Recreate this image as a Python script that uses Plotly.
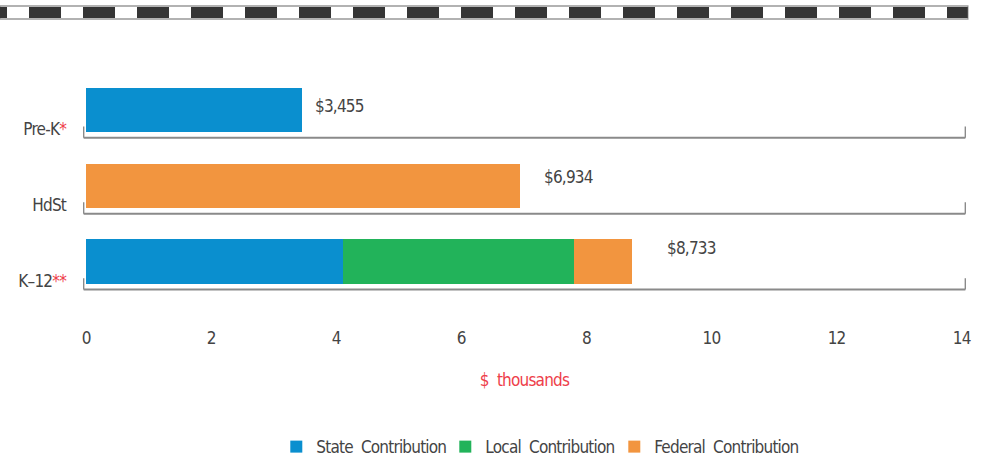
import plotly.graph_objects as go

STATE_COLOR = "#0A8FCF"
LOCAL_COLOR = "#22B35A"
FEDERAL_COLOR = "#F2953F"
RED = "#EE3E4A"
TEXT = "#444444"
FONT = "DejaVu Sans, sans-serif"

programs = ["Pre-K", "HdSt", "K\u201312"]
program_marks = ["*", "", "**"]
state = [3.455, 0, 4.10]
local = [0, 0, 3.70]
federal = [0, 6.934, 0.933]
totals = [3.455, 6.934, 8.733]
total_labels = ["$3,455", "$6,934", "$8,733"]
x_ticks = [0, 2, 4, 6, 8, 10, 12, 14]

rows = list(range(len(programs)))
tick_text = [
    f"{name}<span style='color:{RED}'>{mark}</span>" if mark else name
    for name, mark in zip(programs, program_marks)
]

fig = go.Figure()
for values, color, label in (
    (state, STATE_COLOR, "State  Contribution"),
    (local, LOCAL_COLOR, "Local  Contribution"),
    (federal, FEDERAL_COLOR, "Federal  Contribution"),
):
    fig.add_trace(
        go.Bar(
            x=values,
            y=rows,
            orientation="h",
            width=0.58,
            name=label,
            marker={"color": color, "line": {"width": 0}},
        )
    )

# value labels past the end of each bar
for row, total, text in zip(rows, totals, total_labels):
    fig.add_annotation(
        x=total, y=row, text=text, showarrow=False,
        xanchor="left", align="left", xshift=11 + 11 * row, yshift=4 + 4.5 * row,
        font={"size": 17, "color": TEXT, "family": FONT},
    )

# bracket baseline under each row
for row in rows:
    base = row + 0.37
    fig.add_shape(type="line", x0=-0.04, x1=14.06, y0=base, y1=base,
                  line={"color": "#8a8a8a", "width": 2})
    for xe in (-0.04, 14.06):
        fig.add_shape(type="line", x0=xe, x1=xe, y0=base, y1=base - 0.15,
                      line={"color": "#8a8a8a", "width": 1.5})

# dashed band at the top of the page
band = {"xref": "paper", "yref": "paper", "ysizemode": "pixel", "yanchor": 1}
fig.add_shape(type="rect", x0=-0.094, x1=1.002, y0=30, y1=43,
              line={"color": "#999999", "width": 1.5}, fillcolor="white", **band)
fig.add_shape(type="line", x0=-0.1223, x1=1.002, y0=36.5, y1=36.5,
              line={"color": "#353535", "width": 11, "dash": "32px,22px"}, **band)

fig.update_layout(
    width=981,
    height=459,
    barmode="stack",
    bargap=0.4,
    plot_bgcolor="white",
    paper_bgcolor="white",
    margin={"l": 83, "r": 15, "t": 49, "b": 133, "autoexpand": False},
    font={"family": FONT, "color": TEXT, "size": 17},
    showlegend=True,
    legend={
        "orientation": "h",
        "x": 0.506,
        "xanchor": "center",
        "yref": "container",
        "y": 0.026,
        "yanchor": "middle",
        "font": {"size": 17, "color": TEXT, "family": FONT},
        "itemwidth": 30,
        "entrywidth": 124,
        "entrywidthmode": "pixels",
        "traceorder": "normal",
    },
    xaxis={
        "range": [-0.05, 14.07],
        "tickvals": x_ticks,
        "ticktext": [str(t) for t in x_ticks],
        "showgrid": False,
        "zeroline": False,
        "showline": False,
        "ticks": "",
        "ticklabelstandoff": 0,
        "tickfont": {"size": 17, "color": TEXT},
        "title": {"text": "$  thousands", "font": {"size": 17, "color": RED}, "standoff": 27},
    },
    yaxis={
        "range": [2.85, -0.8],
        "tickvals": [r + 0.26 for r in rows],
        "ticktext": tick_text,
        "showgrid": False,
        "zeroline": False,
        "showline": False,
        "ticks": "",
        "ticklabelstandoff": 16,
        "tickfont": {"size": 17, "color": TEXT},
    },
)

post = """
document.body.style.margin = '0';
var css = document.createElement('style');
css.textContent = '.main-svg text { font-stretch: condensed !important; letter-spacing: -0.8px; }'
  + ' .legend .scrollbox { clip-path: none !important; }';
document.head.appendChild(css);
"""
fig.write_html("out.html", config={"displayModeBar": False}, post_script=post)
